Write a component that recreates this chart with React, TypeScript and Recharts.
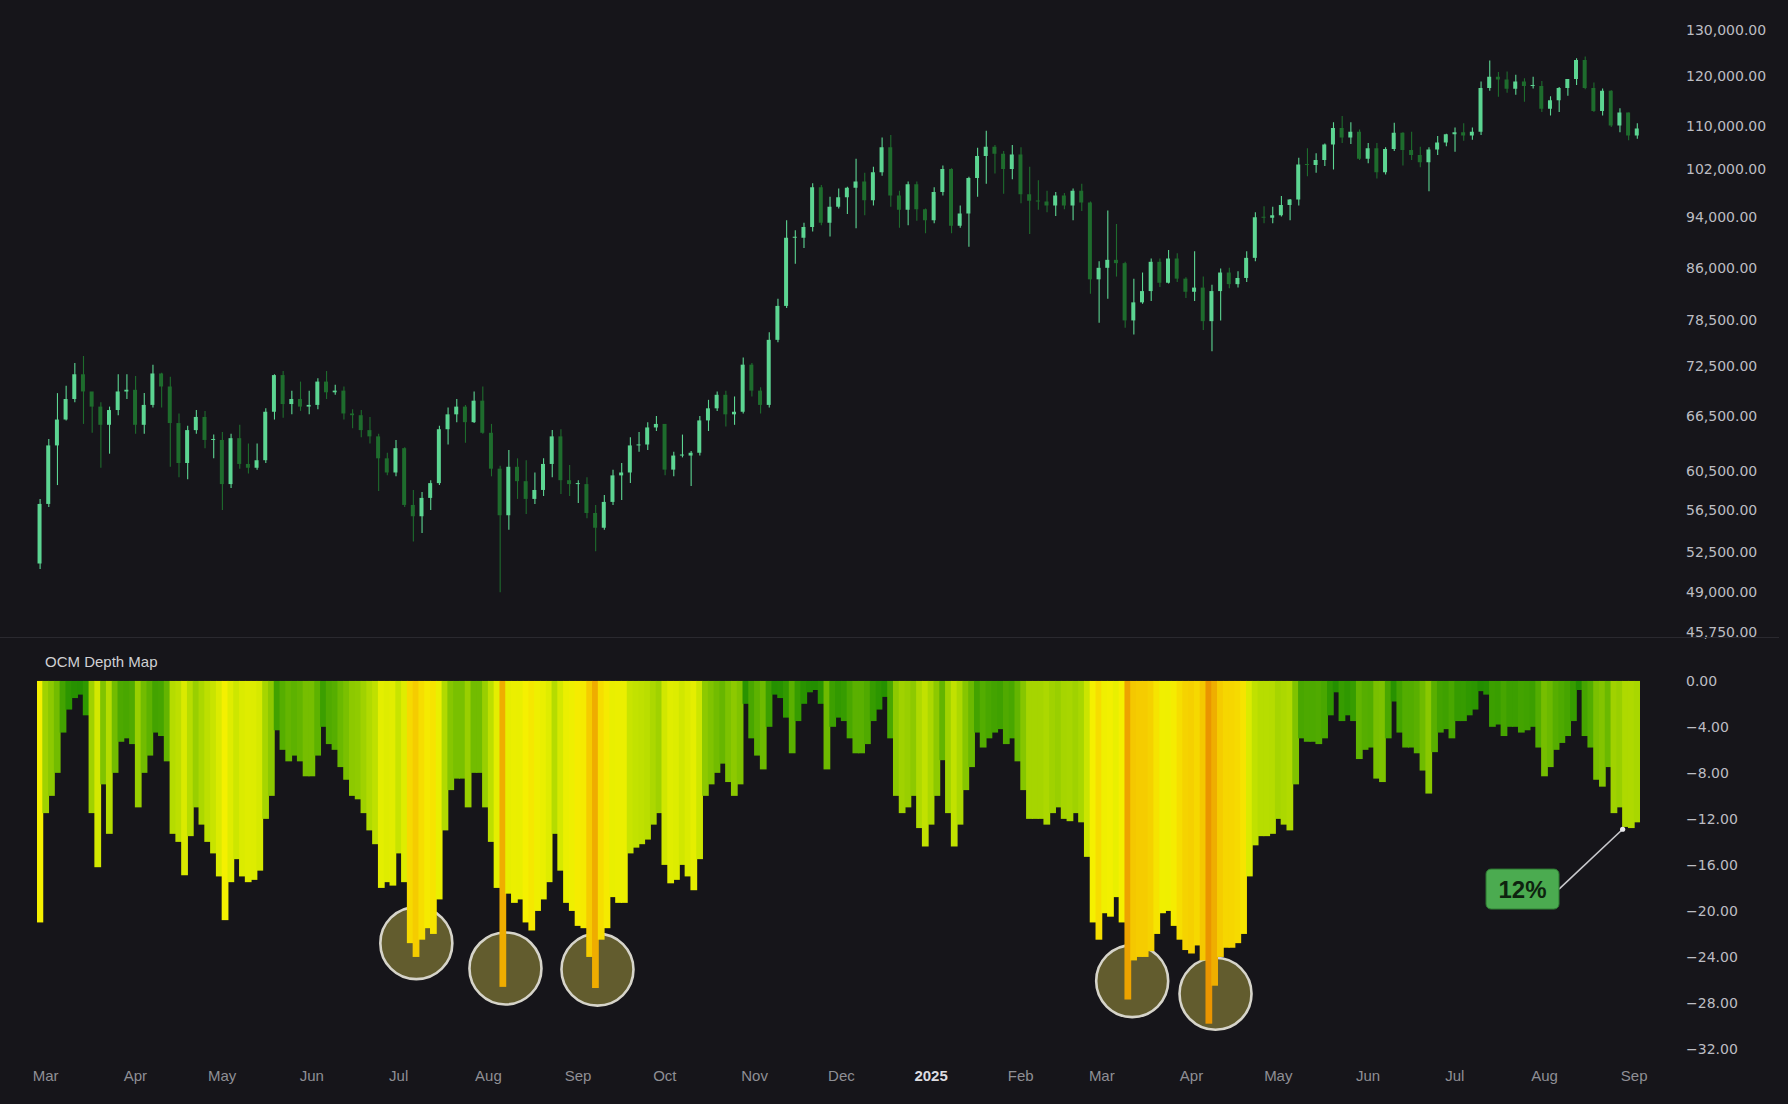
import {
  ComposedChart,
  Bar,
  XAxis,
  YAxis,
  Cell,
  ReferenceDot,
  ReferenceLine,
} from 'recharts'

const BG = '#16151a'
const UP = '#5cd592'
const DOWN = '#1e6c2d'
const AXIS_FONT = '"DejaVu Sans", sans-serif'
const LABEL_FONT = '"Liberation Sans", Arial, sans-serif'

// x is days since 1 Mar 2024
const DAY_DOMAIN: [number, number] = [-3, 551]

// BTC candles, one per 3 days from 28 Feb 2024, prices in $k
const CANDLE_START = -2
const CANDLE_STEP = 3
const FIRST_OPEN = 51.5
const closes = [
  57.1, 63.2, 66.1, 68.5, 71.5, 69.4, 67.6, 65.5, 67.2, 69.4,
  69.6, 65.5, 67.8, 71.6, 70.0, 65.7, 61.3, 64.9, 66.4, 63.8,
  63.8, 59.1, 64.0, 61.2, 60.8, 61.6, 67.0, 71.4, 67.9, 68.5,
  67.6, 67.8, 70.6, 69.3, 69.5, 66.8, 66.6, 64.9, 64.2, 61.8,
  60.3, 62.9, 57.0, 55.9, 57.7, 59.2, 65.0, 66.7, 67.6, 65.8,
  68.3, 64.6, 60.7, 56.0, 60.9, 59.4, 57.6, 58.5, 61.2, 64.2,
  59.5, 59.1, 59.1, 56.2, 54.8, 57.3, 60.0, 60.3, 63.2, 63.3,
  65.2, 65.6, 60.6, 62.1, 62.1, 62.4, 66.0, 67.4, 69.0, 66.7,
  67.0, 72.7, 69.5, 67.8, 75.9, 80.5, 90.6, 90.6, 92.3, 98.9,
  93.0, 95.6, 97.2, 98.8, 99.9, 96.7, 101.5, 106.0, 97.5, 95.1,
  99.4, 95.2, 93.4, 98.1, 102.1, 92.5, 94.5, 100.5, 104.4, 106.1,
  104.8, 102.1, 104.7, 97.7, 96.6, 96.5, 95.8, 97.5, 95.8, 98.3,
  96.3, 84.3, 86.0, 87.2, 86.7, 78.5, 81.0, 82.6, 86.9, 83.8,
  87.4, 84.4, 82.5, 83.1, 78.4, 82.6, 85.3, 83.6, 84.5, 87.5,
  93.9, 93.8, 94.2, 95.9, 96.8, 102.9, 102.8, 103.7, 106.5, 109.6,
  107.8, 108.9, 103.9, 105.8, 101.5, 105.7, 108.7, 105.5, 104.6, 103.3,
  105.6, 106.9, 108.4, 108.8, 108.2, 108.9, 117.5, 119.8, 119.2, 117.3,
  118.8, 117.9, 117.9, 113.3, 115.0, 117.5, 119.3, 123.3, 117.5, 112.9,
  116.9, 110.1, 112.6, 108.2, 109.5,
]
const highs = [
  57.6, 63.9, 69.2, 70.1, 72.9, 73.8, 69.0, 68.1, 67.6, 71.5,
  71.5, 71.3, 69.2, 72.7, 71.7, 71.2, 66.8, 65.4, 67.2, 67.1,
  64.4, 64.7, 64.5, 65.5, 63.4, 63.4, 67.4, 71.5, 71.9, 69.5,
  70.6, 69.5, 71.0, 71.9, 70.2, 70.0, 67.3, 67.2, 66.4, 64.5,
  62.4, 63.8, 63.0, 58.5, 58.3, 59.5, 65.4, 67.5, 68.5, 67.8,
  69.4, 70.0, 65.6, 61.0, 62.7, 61.8, 61.6, 60.3, 61.8, 64.9,
  65.0, 61.1, 59.5, 59.8, 57.0, 58.0, 60.6, 61.3, 64.1, 64.7,
  65.8, 66.5, 65.6, 62.5, 64.4, 62.6, 66.5, 68.4, 69.4, 69.5,
  68.8, 73.6, 72.9, 69.9, 76.9, 81.5, 93.4, 91.8, 93.0, 99.6,
  99.3, 97.3, 98.7, 99.0, 103.9, 101.4, 102.5, 107.8, 108.3, 98.3,
  99.9, 99.9, 95.3, 98.9, 102.7, 102.2, 95.8, 100.7, 105.9, 109.1,
  106.4, 105.3, 106.4, 106.0, 102.5, 100.1, 98.3, 98.1, 97.9, 98.7,
  99.5, 96.5, 87.0, 95.0, 92.8, 86.9, 84.4, 85.3, 87.4, 87.4,
  88.7, 88.2, 84.6, 88.5, 84.7, 83.5, 85.9, 86.0, 85.5, 88.5,
  94.7, 95.7, 95.6, 97.4, 96.9, 104.1, 105.8, 104.9, 106.7, 110.7,
  111.9, 110.7, 109.3, 106.8, 106.8, 106.0, 110.6, 108.8, 108.9, 106.1,
  106.0, 108.1, 108.5, 109.7, 110.5, 109.7, 118.8, 123.2, 120.8, 120.9,
  120.2, 119.5, 119.8, 118.9, 115.8, 117.7, 119.3, 123.7, 124.1, 118.6,
  117.4, 117.0, 113.4, 112.6, 110.5,
]
const lows = [
  51.0, 56.8, 59.0, 66.0, 68.1, 65.6, 64.6, 60.8, 62.3, 66.6,
  68.5, 64.5, 64.5, 67.5, 67.5, 60.9, 59.8, 59.6, 64.5, 62.9,
  61.8, 56.5, 58.7, 60.7, 60.2, 60.6, 61.3, 66.1, 66.3, 66.7,
  67.1, 66.7, 67.3, 68.5, 69.0, 66.1, 65.1, 64.1, 63.4, 58.4,
  60.0, 59.9, 56.8, 53.5, 54.3, 56.5, 59.0, 63.3, 65.8, 63.5,
  65.7, 64.5, 59.9, 49.0, 54.6, 57.6, 56.1, 57.1, 57.9, 59.8,
  58.1, 57.9, 57.2, 55.7, 52.6, 54.6, 57.0, 57.5, 59.2, 62.5,
  62.7, 64.8, 60.0, 59.9, 61.9, 58.9, 62.1, 64.8, 67.1, 65.3,
  65.5, 66.8, 68.8, 66.8, 67.5, 75.6, 80.2, 86.6, 89.0, 91.6,
  92.6, 90.8, 95.3, 94.4, 92.1, 94.2, 95.8, 100.9, 95.6, 92.2,
  92.6, 93.3, 91.3, 92.9, 97.5, 91.3, 92.2, 89.2, 97.3, 99.5,
  101.3, 97.8, 100.3, 96.2, 91.2, 95.1, 94.7, 94.1, 95.2, 93.4,
  94.9, 82.2, 78.2, 81.5, 84.7, 77.5, 76.6, 80.8, 81.2, 83.2,
  83.7, 83.9, 81.6, 81.2, 77.2, 74.4, 78.5, 83.0, 83.1, 83.9,
  87.0, 92.9, 92.9, 94.0, 93.4, 95.8, 100.8, 101.4, 102.6, 102.0,
  106.8, 106.6, 103.7, 103.1, 100.4, 101.1, 105.3, 102.7, 103.7, 102.4,
  98.2, 104.6, 106.2, 105.2, 107.2, 107.4, 108.3, 116.9, 115.7, 116.5,
  116.1, 114.7, 117.4, 112.7, 112.0, 112.7, 115.9, 118.1, 117.2, 112.7,
  112.0, 109.8, 108.8, 107.3, 107.6,
]

const priceTicks = [
  130000, 120000, 110000, 102000, 94000, 86000, 78500,
  72500, 66500, 60500, 56500, 52500, 49000, 45750,
]

// OCM depth (% below high), one value per 2 days from 28 Feb 2024
const DEPTH_START = -2
const DEPTH_STEP = 2
const depth = [
  -21.0, -11.5, -10.0, -8.0, -4.5, -2.5, -1.5, -1.2, -3.0, -11.5,
  -16.2, -9.0, -13.3, -8.0, -5.3, -5.0, -5.5, -11.0, -8.0, -6.5,
  -4.5, -4.8, -7.0, -13.3, -14.0, -16.9, -13.5, -11.0, -12.5, -14.0,
  -15.0, -17.0, -20.8, -17.5, -15.5, -17.0, -17.5, -17.3, -16.5, -12.0,
  -10.0, -4.3, -6.0, -7.0, -6.5, -7.0, -8.3, -8.3, -6.5, -4.0,
  -5.5, -6.0, -7.5, -8.6, -10.0, -10.3, -11.5, -13.0, -14.2, -18.0,
  -17.5, -17.8, -15.0, -17.5, -22.8, -24.0, -22.5, -21.5, -22.0, -19.0,
  -13.0,
  -9.5, -8.5, -8.5, -11.0, -8.0, -8.0, -11.0, -14.0, -18.0, -26.6,
  -18.5, -19.3, -19.0, -21.0, -21.7, -20.0, -19.0, -17.5, -13.3, -16.5,
  -19.3, -20.0, -21.3, -21.5, -24.0, -26.7, -22.5, -21.5, -18.8, -19.3,
  -19.3, -15.0, -14.5, -14.2, -13.8, -12.5, -11.5, -16.0, -17.6, -17.3,
  -16.0, -17.0, -18.2, -15.5, -10.0, -9.0, -8.0, -7.2, -8.8, -10.0,
  -9.0, -2.0, -5.0, -6.5, -7.7, -4.0, -1.2, -1.5, -3.2, -6.3,
  -3.5, -2.0, -1.0, -0.8, -2.0, -7.7, -4.0, -3.2, -3.5, -5.0,
  -6.3,
  -6.3, -5.5, -3.5, -2.5, -1.4, -5.0, -10.0, -11.5, -11.0, -10.0,
  -12.8, -14.4, -12.5, -10.0, -6.9, -11.5, -14.4, -12.5, -9.5, -7.5,
  -4.5, -5.8, -5.0, -4.5, -4.2, -5.5, -5.0, -7.0, -9.5, -12.0,
  -12.0, -12.0, -12.5, -11.5, -11.0, -12.0, -12.2, -11.5, -12.3, -15.3,
  -21.0, -22.5, -20.2, -20.5, -18.8, -21.0, -27.7, -24.3, -24.0, -24.0,
  -23.5, -22.0, -20.2, -20.0, -21.3, -22.5, -23.4, -23.7, -23.0, -24.3,
  -29.8, -26.5, -24.0, -23.2, -23.2, -22.8, -22.0, -17.0, -14.3, -13.5,
  -13.5, -13.3, -12.0, -12.5, -13.0, -9.0, -5.0, -5.3, -5.3, -5.5,
  -5.0, -3.0, -1.0, -3.5, -3.0, -3.5, -6.8, -6.0, -5.8, -8.5,
  -8.8, -5.0, -1.8, -4.5, -5.8, -5.8, -6.3, -7.8, -9.8, -6.2,
  -4.5, -4.2, -5.0, -3.5, -3.5, -3.0, -2.5, -0.9, -1.2, -4.0,
  -3.8, -4.8, -4.0, -4.0, -4.5, -4.3, -4.0, -5.8, -8.3, -7.5,
  -6.0, -5.4, -4.8, -3.5, -0.8, -4.8, -5.8, -8.6, -9.2, -7.5,
  -11.5, -11.0, -12.7, -12.8, -12.3,
]
const depthTicks = [0, -4, -8, -12, -16, -20, -24, -28, -32]

const monthDays = [0, 31, 61, 92, 122, 153, 184, 214, 245, 275, 306, 337, 365, 396, 426, 457, 487, 518, 549]
const monthLabels = [
  'Mar', 'Apr', 'May', 'Jun', 'Jul', 'Aug', 'Sep', 'Oct', 'Nov', 'Dec',
  '2025', 'Feb', 'Mar', 'Apr', 'May', 'Jun', 'Jul', 'Aug', 'Sep',
]

// highlighted troughs
const circleDays = [128.1, 158.9, 190.7, 375.5, 404.3]
const circleDepths = [-22.8, -25.0, -25.1, -26.1, -27.2]

const calloutLabel = '12%'
const calloutPoint = { day: 545, value: -12.9 }
const calloutBox = { day: 510.4, value: -18.1, edgeDay: 523 }

const candles = closes.map((close, i) => {
  const open = i === 0 ? FIRST_OPEN : closes[i - 1]
  return {
    day: CANDLE_START + i * CANDLE_STEP,
    wick: [lows[i] * 1000, highs[i] * 1000],
    body: [Math.min(open, close) * 1000, Math.max(open, close) * 1000],
    up: close >= open,
  }
})

const depthData = depth.map((v, i) => ({ day: DEPTH_START + i * DEPTH_STEP, v }))

// colour ramp for the depth columns
const depthStops: [number, string][] = [
  [0, '#1e8a00'],
  [3, '#2f9800'],
  [6, '#56ae00'],
  [9, '#80c300'],
  [12, '#a6d500'],
  [15, '#c8e400'],
  [18, '#e4ee00'],
  [21, '#f5f000'],
  [23, '#f6d800'],
  [25, '#f3c000'],
  [27, '#eea800'],
  [30, '#ea9400'],
]

function mix(a: string, b: string, t: number) {
  const pa = [1, 3, 5].map((i) => parseInt(a.slice(i, i + 2), 16))
  const pb = [1, 3, 5].map((i) => parseInt(b.slice(i, i + 2), 16))
  const c = pa.map((v, i) => Math.round(v + (pb[i] - v) * t))
  return `rgb(${c[0]},${c[1]},${c[2]})`
}

function depthColor(v: number) {
  const d = Math.abs(v)
  for (let i = 1; i < depthStops.length; i++) {
    if (d <= depthStops[i][0]) {
      const [d0, c0] = depthStops[i - 1]
      const [d1, c1] = depthStops[i]
      return mix(c0, c1, (d - d0) / (d1 - d0))
    }
  }
  return depthStops[depthStops.length - 1][1]
}

const fmt = (v: number) =>
  v
    .toLocaleString('en-US', { minimumFractionDigits: 2, maximumFractionDigits: 2 })
    .replace('-', '\u2212')

function ValueTick(props: any) {
  const { x, y, payload } = props
  return (
    <text x={x} y={y} dy="0.36em" textAnchor="start" fill="#bdbdc3" fontSize={14} fontFamily={AXIS_FONT}>
      {fmt(payload.value)}
    </text>
  )
}

function MonthTick(props: any) {
  const { x, y, payload } = props
  const label = monthLabels[monthDays.indexOf(payload.value)]
  const isYear = label === '2025'
  return (
    <text
      x={x}
      y={y}
      dy="0.36em"
      textAnchor="middle"
      fill={isYear ? '#dcdce0' : '#8f8f95'}
      fontWeight={isYear ? 700 : 400}
      fontSize={15}
      fontFamily={LABEL_FONT}
    >
      {label}
    </text>
  )
}

// columns are widened a hair so neighbours meet without seams
function DepthColumn(props: any) {
  const { x, y, width, height, fill } = props
  if (!height || !width) return null
  const top = height < 0 ? y + height : y
  const left = width < 0 ? x + width : x
  return <rect x={left - 0.5} y={top} width={Math.abs(width) + 1} height={Math.abs(height)} fill={fill} />
}

function CalloutBox(props: any) {
  const { cx, cy } = props
  return (
    <g>
      <rect x={cx - 36.5} y={cy - 20} width={73} height={40} rx={5} fill="#4bab50" stroke="#2e7a32" strokeWidth={1} />
      <text
        x={cx}
        y={cy}
        dy="0.36em"
        textAnchor="middle"
        fontSize={24}
        fontWeight={700}
        fill="#0e230f"
        fontFamily={LABEL_FONT}
      >
        {calloutLabel}
      </text>
    </g>
  )
}

const DEPTH_MARGIN = { top: 40.8, right: 0, bottom: 15, left: 37 }
const depthXProps = {
  dataKey: 'day',
  type: 'number' as const,
  domain: DAY_DOMAIN,
  ticks: monthDays,
  interval: 0,
  height: 40,
  axisLine: false,
  tickLine: false,
  tickSize: 0,
  tickMargin: 27,
  allowDataOverflow: true,
}
const depthYProps = {
  orientation: 'right' as const,
  domain: [-32, 0] as [number, number],
  ticks: depthTicks,
  interval: 0,
  width: 148,
  axisLine: false,
  tickLine: false,
  tickSize: 0,
  tickMargin: 46,
  allowDataOverflow: true,
}

const layer = { position: 'absolute' as const, left: 0, top: 640 }

export default function App() {
  return (
    <div
      style={{
        position: 'absolute',
        left: 0,
        top: 0,
        width: 1788,
        height: 1104,
        background: BG,
        overflow: 'hidden',
      }}
    >
      {/* price panel */}
      <div style={{ position: 'absolute', left: 0, top: 0 }}>
        <ComposedChart width={1788} height={640} data={candles} margin={{ top: 29.6, right: 0, bottom: 8.3, left: 37 }}>
          <XAxis xAxisId="wick" dataKey="day" type="number" domain={DAY_DOMAIN} hide />
          <XAxis xAxisId="body" dataKey="day" type="number" domain={DAY_DOMAIN} hide />
          <YAxis
            orientation="right"
            scale="log"
            domain={[45750, 130000]}
            ticks={priceTicks}
            interval={0}
            width={148}
            axisLine={false}
            tickLine={false}
            tickSize={0}
            tickMargin={46}
            tick={<ValueTick />}
            allowDataOverflow
          />
          <Bar xAxisId="wick" dataKey="wick" barSize={1.1} isAnimationActive={false}>
            {candles.map((c) => (
              <Cell key={c.day} fill={c.up ? UP : DOWN} />
            ))}
          </Bar>
          <Bar xAxisId="body" dataKey="body" barSize={4} minPointSize={1} isAnimationActive={false}>
            {candles.map((c) => (
              <Cell key={c.day} fill={c.up ? UP : DOWN} />
            ))}
          </Bar>
        </ComposedChart>
      </div>

      <div style={{ position: 'absolute', left: 0, top: 637, width: 1779, height: 1, background: '#2a292f' }} />

      <div
        style={{
          position: 'absolute',
          left: 45,
          top: 653,
          fontSize: 15,
          fontFamily: LABEL_FONT,
          color: '#d0d0d4',
          whiteSpace: 'nowrap',
        }}
      >
        OCM Depth Map
      </div>

      {/* trough circles, under the columns */}
      <div style={layer}>
        <ComposedChart width={1788} height={464} data={depthData} margin={DEPTH_MARGIN}>
          <XAxis {...depthXProps} tick={false} />
          <YAxis {...depthYProps} tick={false} />
          {circleDays.map((d, i) => (
            <ReferenceDot
              key={d}
              x={d}
              y={circleDepths[i]}
              r={36}
              fill="#625c2e"
              stroke="#d6d4ca"
              strokeWidth={2.6}
              ifOverflow="visible"
            />
          ))}
        </ComposedChart>
      </div>

      {/* depth columns */}
      <div style={layer}>
        <ComposedChart width={1788} height={464} data={depthData} margin={DEPTH_MARGIN} barCategoryGap={0} barGap={0}>
          <XAxis {...depthXProps} tick={<MonthTick />} />
          <YAxis {...depthYProps} tick={<ValueTick />} />
          <Bar dataKey="v" barSize={5.75} shape={<DepthColumn />} isAnimationActive={false}>
            {depthData.map((d) => (
              <Cell key={d.day} fill={depthColor(d.v)} />
            ))}
          </Bar>
        </ComposedChart>
      </div>

      {/* 12% callout */}
      <div style={layer}>
        <ComposedChart width={1788} height={464} data={depthData} margin={DEPTH_MARGIN}>
          <XAxis {...depthXProps} tick={false} />
          <YAxis {...depthYProps} tick={false} />
          <ReferenceLine
            segment={[
              { x: calloutBox.edgeDay, y: calloutBox.value },
              { x: calloutPoint.day, y: calloutPoint.value },
            ]}
            stroke="#c8c8cc"
            strokeWidth={1.6}
            ifOverflow="visible"
          />
          <ReferenceDot
            x={calloutBox.day}
            y={calloutBox.value}
            r={1}
            shape={(p: any) => <CalloutBox {...p} />}
            ifOverflow="visible"
          />
          <ReferenceDot
            x={calloutPoint.day}
            y={calloutPoint.value}
            r={2.6}
            fill="#e8e8ea"
            stroke="none"
            ifOverflow="visible"
          />
        </ComposedChart>
      </div>
    </div>
  )
}
